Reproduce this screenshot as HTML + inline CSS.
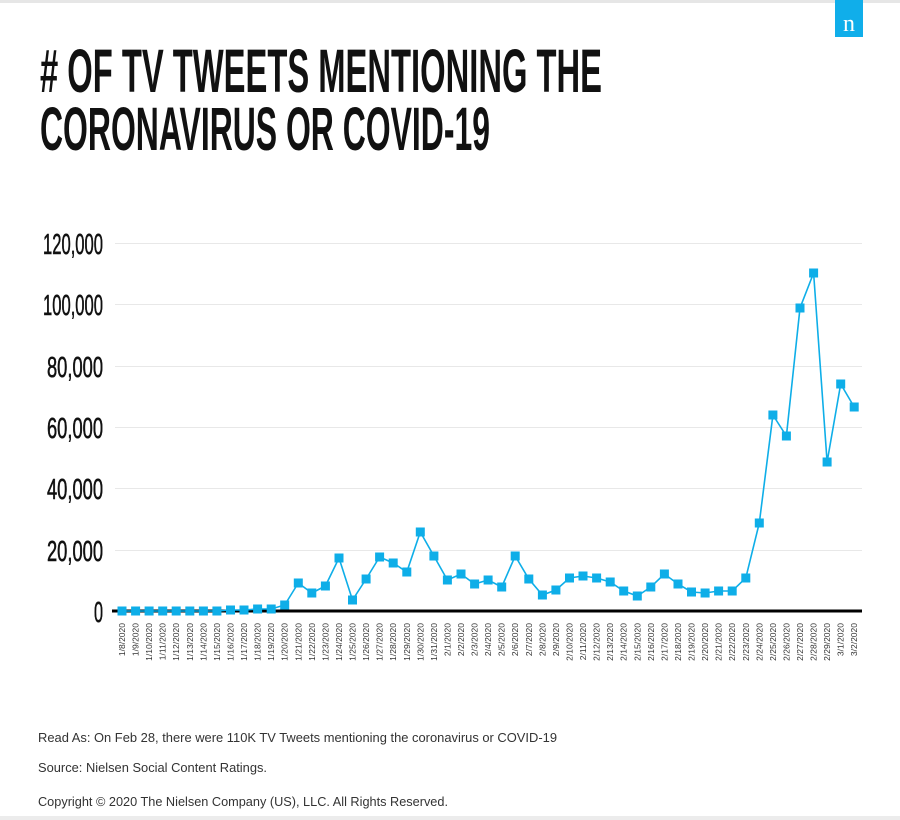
<!DOCTYPE html>
<html><head><meta charset="utf-8"><style>
html,body{margin:0;padding:0;background:#fff;}
svg{display:block;}
</style></head><body>
<svg width="900" height="820" viewBox="0 0 900 820" xmlns="http://www.w3.org/2000/svg">
<defs>
<marker id="sq" markerUnits="userSpaceOnUse" markerWidth="10" markerHeight="10" refX="5" refY="5">
<rect x="0.5" y="0.5" width="9" height="9" fill="#0eaee8"/>
</marker>
</defs>
<rect x="0" y="0" width="900" height="3" fill="#e6e6e6"/>
<rect x="0" y="816" width="900" height="4" fill="#ececec"/>
<rect x="835" y="0" width="28" height="37" fill="#10aeea"/>
<text x="849" y="31" font-family="Liberation Serif, serif" font-size="24" fill="#fff" text-anchor="middle">n</text>
<g font-family="Liberation Sans, sans-serif" fill="#111" font-weight="bold">
<text x="40" y="92" font-size="61" textLength="562" lengthAdjust="spacingAndGlyphs"># OF TV TWEETS MENTIONING THE</text>
<text x="40" y="150" font-size="61" textLength="450" lengthAdjust="spacingAndGlyphs">CORONAVIRUS OR COVID-19</text>
</g>
<g stroke="#e8e8e8" stroke-width="1">
<line x1="115" y1="243.5" x2="862" y2="243.5"/>
<line x1="115" y1="304.5" x2="862" y2="304.5"/>
<line x1="115" y1="366.5" x2="862" y2="366.5"/>
<line x1="115" y1="427.5" x2="862" y2="427.5"/>
<line x1="115" y1="488.5" x2="862" y2="488.5"/>
<line x1="115" y1="550.5" x2="862" y2="550.5"/>
</g>
<line x1="112" y1="611" x2="862" y2="611" stroke="#000" stroke-width="3"/>
<g font-family="Liberation Sans, sans-serif" font-size="29" fill="#111" stroke="#111" stroke-width="0.6" text-anchor="end">
<text x="103" y="254" textLength="60" lengthAdjust="spacingAndGlyphs">120,000</text>
<text x="103" y="315" textLength="60" lengthAdjust="spacingAndGlyphs">100,000</text>
<text x="103" y="377" textLength="56" lengthAdjust="spacingAndGlyphs">80,000</text>
<text x="103" y="438" textLength="56" lengthAdjust="spacingAndGlyphs">60,000</text>
<text x="103" y="499" textLength="56" lengthAdjust="spacingAndGlyphs">40,000</text>
<text x="103" y="561" textLength="56" lengthAdjust="spacingAndGlyphs">20,000</text>
<text x="103" y="622" textLength="9" lengthAdjust="spacingAndGlyphs">0</text>
</g>
<polyline fill="none" stroke="#0eaee8" stroke-width="1.6" marker-start="url(#sq)" marker-mid="url(#sq)" marker-end="url(#sq)" points="122,611 135.6,611 149.1,611 162.7,611 176.2,611 189.8,611 203.4,611 216.9,611 230.5,610 244,610 257.6,609 271.2,609 284.7,605 298.3,583 311.8,593 325.4,586 339,558 352.5,600 366.1,579 379.6,557 393.2,563 406.8,572 420.3,532 433.9,556 447.4,580 461,574 474.6,584 488.1,580 501.7,587 515.2,556 528.8,579 542.4,595 555.9,590 569.5,578 583,576 596.6,578 610.2,582 623.7,591 637.3,596 650.8,587 664.4,574 678,584 691.5,592 705.1,593 718.6,591 732.2,591 745.8,578 759.3,523 772.9,415 786.4,436 800,308 813.6,273 827.1,462 840.7,384 854.2,407"/>
<g font-family="Liberation Sans, sans-serif" font-size="8.5" fill="#333" text-anchor="end">
<text transform="translate(125,623) rotate(-90)">1/8/2020</text>
<text transform="translate(138.6,623) rotate(-90)">1/9/2020</text>
<text transform="translate(152.1,623) rotate(-90)">1/10/2020</text>
<text transform="translate(165.7,623) rotate(-90)">1/11/2020</text>
<text transform="translate(179.2,623) rotate(-90)">1/12/2020</text>
<text transform="translate(192.8,623) rotate(-90)">1/13/2020</text>
<text transform="translate(206.4,623) rotate(-90)">1/14/2020</text>
<text transform="translate(219.9,623) rotate(-90)">1/15/2020</text>
<text transform="translate(233.5,623) rotate(-90)">1/16/2020</text>
<text transform="translate(247,623) rotate(-90)">1/17/2020</text>
<text transform="translate(260.6,623) rotate(-90)">1/18/2020</text>
<text transform="translate(274.2,623) rotate(-90)">1/19/2020</text>
<text transform="translate(287.7,623) rotate(-90)">1/20/2020</text>
<text transform="translate(301.3,623) rotate(-90)">1/21/2020</text>
<text transform="translate(314.8,623) rotate(-90)">1/22/2020</text>
<text transform="translate(328.4,623) rotate(-90)">1/23/2020</text>
<text transform="translate(342,623) rotate(-90)">1/24/2020</text>
<text transform="translate(355.5,623) rotate(-90)">1/25/2020</text>
<text transform="translate(369.1,623) rotate(-90)">1/26/2020</text>
<text transform="translate(382.6,623) rotate(-90)">1/27/2020</text>
<text transform="translate(396.2,623) rotate(-90)">1/28/2020</text>
<text transform="translate(409.8,623) rotate(-90)">1/29/2020</text>
<text transform="translate(423.3,623) rotate(-90)">1/30/2020</text>
<text transform="translate(436.9,623) rotate(-90)">1/31/2020</text>
<text transform="translate(450.4,623) rotate(-90)">2/1/2020</text>
<text transform="translate(464,623) rotate(-90)">2/2/2020</text>
<text transform="translate(477.6,623) rotate(-90)">2/3/2020</text>
<text transform="translate(491.1,623) rotate(-90)">2/4/2020</text>
<text transform="translate(504.7,623) rotate(-90)">2/5/2020</text>
<text transform="translate(518.2,623) rotate(-90)">2/6/2020</text>
<text transform="translate(531.8,623) rotate(-90)">2/7/2020</text>
<text transform="translate(545.4,623) rotate(-90)">2/8/2020</text>
<text transform="translate(558.9,623) rotate(-90)">2/9/2020</text>
<text transform="translate(572.5,623) rotate(-90)">2/10/2020</text>
<text transform="translate(586,623) rotate(-90)">2/11/2020</text>
<text transform="translate(599.6,623) rotate(-90)">2/12/2020</text>
<text transform="translate(613.2,623) rotate(-90)">2/13/2020</text>
<text transform="translate(626.7,623) rotate(-90)">2/14/2020</text>
<text transform="translate(640.3,623) rotate(-90)">2/15/2020</text>
<text transform="translate(653.8,623) rotate(-90)">2/16/2020</text>
<text transform="translate(667.4,623) rotate(-90)">2/17/2020</text>
<text transform="translate(681,623) rotate(-90)">2/18/2020</text>
<text transform="translate(694.5,623) rotate(-90)">2/19/2020</text>
<text transform="translate(708.1,623) rotate(-90)">2/20/2020</text>
<text transform="translate(721.6,623) rotate(-90)">2/21/2020</text>
<text transform="translate(735.2,623) rotate(-90)">2/22/2020</text>
<text transform="translate(748.8,623) rotate(-90)">2/23/2020</text>
<text transform="translate(762.3,623) rotate(-90)">2/24/2020</text>
<text transform="translate(775.9,623) rotate(-90)">2/25/2020</text>
<text transform="translate(789.4,623) rotate(-90)">2/26/2020</text>
<text transform="translate(803,623) rotate(-90)">2/27/2020</text>
<text transform="translate(816.6,623) rotate(-90)">2/28/2020</text>
<text transform="translate(830.1,623) rotate(-90)">2/29/2020</text>
<text transform="translate(843.7,623) rotate(-90)">3/1/2020</text>
<text transform="translate(857.2,623) rotate(-90)">3/2/2020</text>
</g>
<g font-family="Liberation Sans, sans-serif" font-size="12.5" fill="#333">
<text x="38" y="742" textLength="519" lengthAdjust="spacingAndGlyphs">Read As: On Feb 28, there were 110K TV Tweets mentioning the coronavirus or COVID-19</text>
<text x="38" y="772" textLength="229" lengthAdjust="spacingAndGlyphs">Source: Nielsen Social Content Ratings.</text>
<text x="38" y="806" textLength="410" lengthAdjust="spacingAndGlyphs">Copyright © 2020 The Nielsen Company (US), LLC. All Rights Reserved.</text>
</g>
</svg>
</body></html>
